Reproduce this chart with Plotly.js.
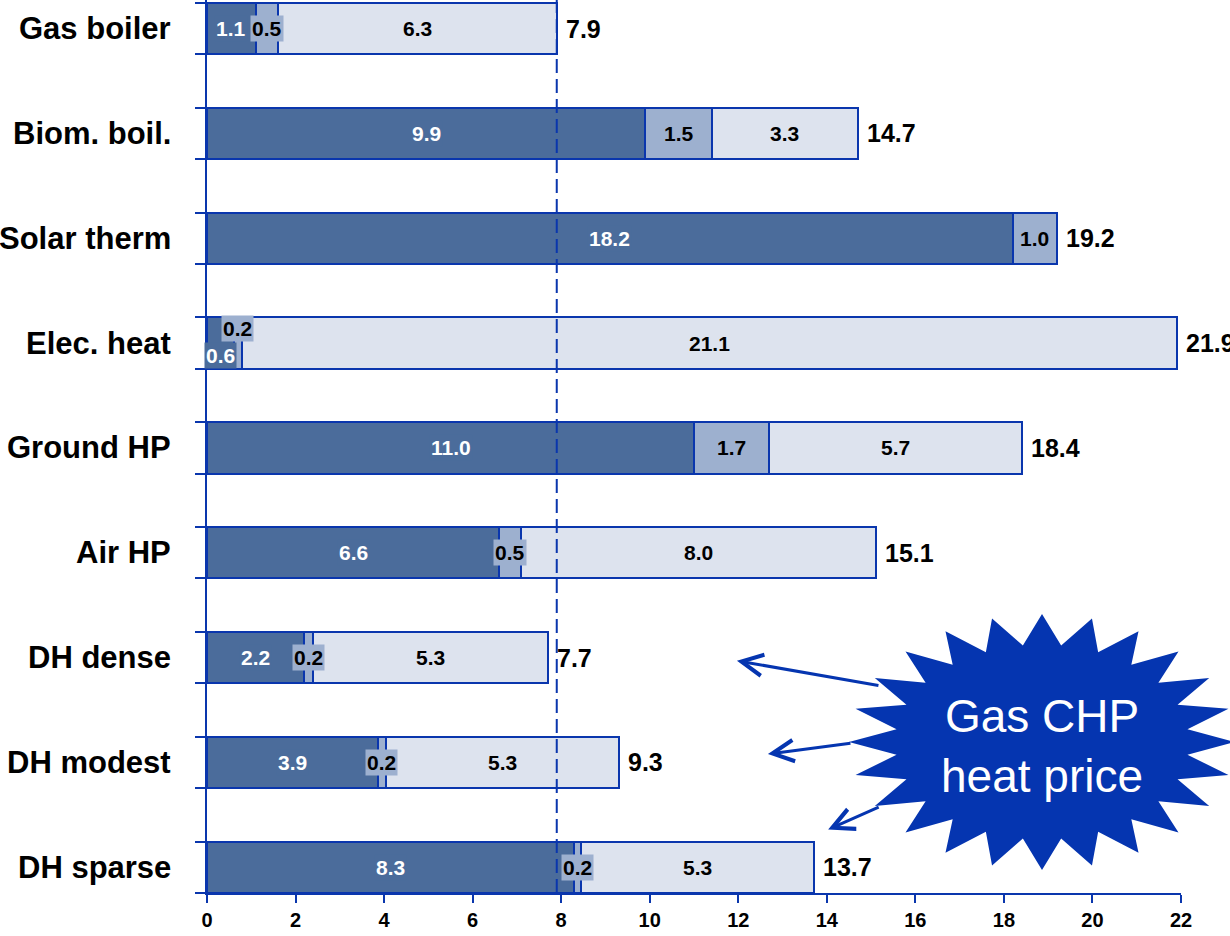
<!DOCTYPE html>
<html>
<head>
<meta charset="utf-8">
<script src="https://cdn.plot.ly/plotly-3.0.1.min.js"></script>
<style>
  html, body { margin: 0; padding: 0; background: #fff; }
  #chart { width: 1230px; height: 936px; }
</style>
</head>
<body>
<div id="chart"></div>
<script>
// Heat cost breakdown per heating option (stacked components and totals)
const categories = ['Gas boiler', 'Biom. boil.', 'Solar therm', 'Elec. heat', 'Ground HP',
                    'Air HP', 'DH dense', 'DH modest', 'DH sparse'];
const partA = [1.1, 9.9, 18.2, 0.6, 11.0, 6.6, 2.2, 3.86, 8.28];
const partB = [0.5, 1.5, 1.0, 0.2, 1.7, 0.5, 0.2, 0.18, 0.17];
const partC = [6.3, 3.3, 0.0, 21.1, 5.7, 8.0, 5.3, 5.26, 5.26];
const xTickValues = [0, 2, 4, 6, 8, 10, 12, 14, 16, 18, 20, 22];
const referenceOption = 'Gas boiler';
const calloutLines = ['Gas CHP', 'heat price'];

// Styling
const LINE_BLUE = '#0a36ad';
const STAR_BLUE = '#0535b0';
const SEG_COLORS = ['#4b6c9b', '#9db0cf', '#dde3ee'];
const SEG_TEXT = ['#ffffff', '#000000', '#000000'];
const FONT = 'Liberation Sans, Arial, sans-serif';
const BAR_W = 0.49;

const n = categories.length;
const yPos = categories.map((c, i) => n - 1 - i);
const parts = [partA, partB, partC];
const totals = categories.map((c, i) => partA[i] + partB[i] + partC[i]);

// Per-label vertical nudges where labels would collide (yshift in px)
const labelNudge = { 'Elec. heat': [-12, 15, 0] };

const traces = parts.map((vals, s) => ({
  type: 'bar',
  orientation: 'h',
  y: yPos,
  x: vals,
  width: BAR_W,
  marker: { color: SEG_COLORS[s], line: { color: LINE_BLUE, width: 2 } },
  hoverinfo: 'skip',
  showlegend: false
}));

const annotations = [];

// Segment value labels, centred in each segment
categories.forEach((cat, i) => {
  let start = 0;
  parts.forEach((vals, s) => {
    const v = vals[i];
    if (v > 0) {
      const nudge = labelNudge[cat] ? labelNudge[cat][s] : 0;
      annotations.push({
        x: start + v / 2, y: yPos[i], xref: 'x', yref: 'y',
        text: v.toFixed(1), showarrow: false,
        font: { family: FONT, size: 21, weight: 'bold', color: SEG_TEXT[s] },
        bgcolor: SEG_COLORS[s], borderpad: 1, yshift: nudge
      });
    }
    start += v;
  });
  // Total at the end of the bar
  annotations.push({
    x: totals[i], y: yPos[i], xref: 'x', yref: 'y',
    text: totals[i].toFixed(1), showarrow: false, xanchor: 'left', xshift: 7,
    font: { family: FONT, size: 25, weight: 'bold', color: '#000' }
  });
  // Category label on the left
  annotations.push({
    x: 0, y: yPos[i], xref: 'paper', yref: 'y',
    text: cat, showarrow: false, xanchor: 'right', xshift: -34,
    font: { family: FONT, size: 31, weight: 'bold', color: '#000' }
  });
});

// Callout starburst (paper coordinates)
function starPath(cx, cy, rx, ry, points, inner) {
  const pts = [];
  for (let k = 0; k < points * 2; k++) {
    const a = Math.PI / 2 + k * Math.PI / points;
    const f = k % 2 === 0 ? 1 : inner;
    pts.push((cx + rx * f * Math.cos(a)).toFixed(5) + ',' + (cy + ry * f * Math.sin(a)).toFixed(5));
  }
  return 'M' + pts.join('L') + 'Z';
}
const starCx = 0.8573, starCy = 0.1691;

annotations.push({
  x: starCx, y: starCy - 0.004, xref: 'paper', yref: 'paper',
  xanchor: 'center', yanchor: 'middle',
  text: calloutLines.join('<br>'), showarrow: false,
  font: { family: FONT, size: 46, color: '#ffffff' }
});

// Arrows from the callout to the district heating rows
const arrowSpecs = [
  { x: 11.97, y: 1.97, ax: 143, ay: 25 },
  { x: 12.67, y: 1.08, ax: 84, ay: -11 },
  { x: 14.03, y: 0.36, ax: 52, ay: -23 }
];
arrowSpecs.forEach(a => annotations.push({
  x: a.x, y: a.y, xref: 'x', yref: 'y', ax: a.ax, ay: a.ay,
  text: '', showarrow: true, arrowhead: 5, arrowsize: 1.4, arrowwidth: 3,
  arrowcolor: STAR_BLUE, standoff: 0
}));

const refIdx = categories.indexOf(referenceOption);
const shapes = [
  {
    type: 'line', xref: 'x', yref: 'paper',
    x0: totals[refIdx], x1: totals[refIdx], y0: 0, y1: 1,
    line: { color: LINE_BLUE, width: 2, dash: '14px,6px' }, layer: 'above'
  },
  {
    type: 'path', xref: 'paper', yref: 'paper',
    path: starPath(starCx, starCy, 0.1982, 0.1433, 24, 0.76),
    fillcolor: STAR_BLUE, line: { width: 0 }, layer: 'above'
  }
];

const edgeTicks = [];
yPos.forEach(y => { edgeTicks.push(y - BAR_W / 2, y + BAR_W / 2); });

const layout = {
  width: 1230, height: 936,
  margin: { l: 207, r: 49, t: 0, b: 43, pad: 0 },
  paper_bgcolor: '#ffffff', plot_bgcolor: '#ffffff',
  barmode: 'stack', bargap: 0,
  showlegend: false,
  xaxis: {
    range: [0, 22], tickvals: xTickValues, ticktext: xTickValues.map(String),
    ticks: 'outside', ticklen: 8, tickwidth: 2, tickcolor: LINE_BLUE,
    showline: true, linecolor: LINE_BLUE, linewidth: 2,
    showgrid: false, zeroline: false, fixedrange: true,
    tickfont: { family: FONT, size: 20, weight: 'bold', color: '#000' }
  },
  yaxis: {
    range: [-BAR_W / 2, 8.272], tickvals: edgeTicks, showticklabels: false,
    ticks: 'outside', ticklen: 10, tickwidth: 2, tickcolor: LINE_BLUE,
    showline: true, linecolor: LINE_BLUE, linewidth: 2,
    showgrid: false, zeroline: false, fixedrange: true
  },
  annotations: annotations,
  shapes: shapes
};

Plotly.newPlot('chart', traces, layout, { staticPlot: true, displayModeBar: false });
</script>
</body>
</html>
